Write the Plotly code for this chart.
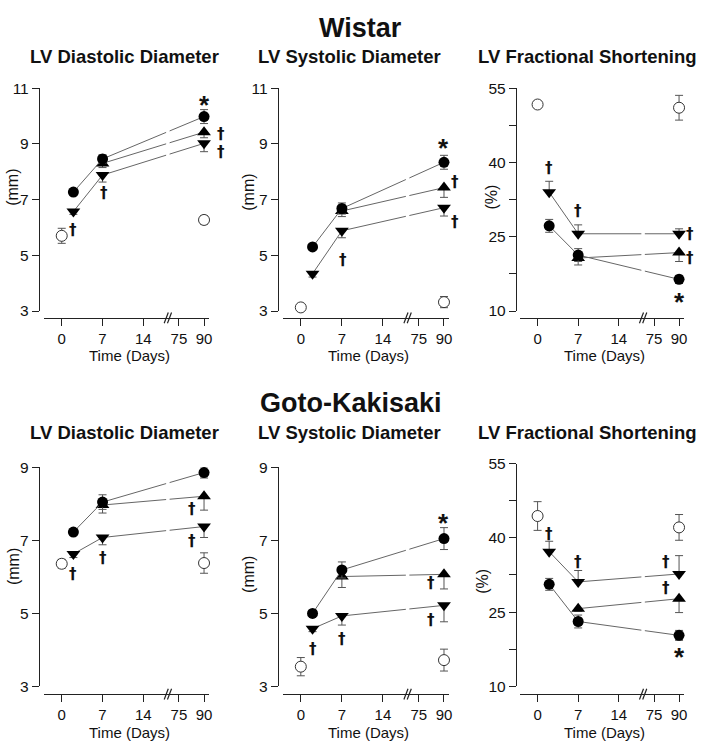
import numpy as np
import plotly.graph_objects as go

W, H = 708, 754
FONT = "Liberation Sans, Arial, Helvetica, sans-serif"

# ---------------- data ----------------
tick_days = [0, 7, 14, 75, 90]
tick_labels = ["0", "7", "14", "75", "90"]
tick_pos = [0, 7, 14, 20.1, 24.4]
break_pos = 18.2

days_filled = [2, 7, 90]
days_triup = [7, 90]
days_open = [0, 90]

# Wistar - LV Diastolic Diameter (mm)
w_dd_circle = [7.27, 8.46, 9.98]
w_dd_circle_err = [0.1, 0.15, 0.25]
w_dd_triup = [8.3, 9.42]
w_dd_triup_err = [0.15, 0.2]
w_dd_tridown = [6.57, 7.88, 9.02]
w_dd_tridown_err = [0.1, 0.25, 0.3]
w_dd_open = [5.7, 6.27]
w_dd_open_err = [0.27, 0.15]

# Wistar - LV Systolic Diameter (mm)
w_sd_circle = [5.3, 6.68, 8.34]
w_sd_circle_err = [0.08, 0.2, 0.25]
w_sd_triup = [6.59, 7.43]
w_sd_triup_err = [0.2, 0.35]
w_sd_tridown = [4.34, 5.88, 6.71]
w_sd_tridown_err = [0.12, 0.25, 0.3]
w_sd_open = [3.13, 3.32]
w_sd_open_err = [0.08, 0.2]

# Wistar - LV Fractional Shortening (%)
w_fs_circle = [27.2, 21.3, 16.4]
w_fs_circle_err = [1.3, 1.3, 0.8]
w_fs_triup = [20.7, 21.8]
w_fs_triup_err = [1.4, 1.8]
w_fs_tridown = [34.0, 25.6, 25.6]
w_fs_tridown_err = [2.2, 1.8, 1.0]
w_fs_open = [51.7, 51.05]
w_fs_open_err = [0.7, 2.5]

# Goto-Kakisaki - LV Diastolic Diameter (mm)
g_dd_circle = [7.23, 8.05, 8.86]
g_dd_circle_err = [0.08, 0.2, 0.15]
g_dd_triup = [7.97, 8.21]
g_dd_triup_err = [0.22, 0.38]
g_dd_tridown = [6.63, 7.08, 7.38]
g_dd_tridown_err = [0.1, 0.2, 0.3]
g_dd_open = [6.36, 6.38]
g_dd_open_err = [0.12, 0.28]

# Goto-Kakisaki - LV Systolic Diameter (mm)
g_sd_circle = [5.0, 6.19, 7.05]
g_sd_circle_err = [0.08, 0.22, 0.3]
g_sd_triup = [6.01, 6.07]
g_sd_triup_err = [0.3, 0.4]
g_sd_tridown = [4.58, 4.93, 5.22]
g_sd_tridown_err = [0.08, 0.25, 0.45]
g_sd_open = [3.54, 3.72]
g_sd_open_err = [0.25, 0.3]

# Goto-Kakisaki - LV Fractional Shortening (%)
g_fs_circle = [30.6, 23.1, 20.3]
g_fs_circle_err = [1.2, 1.3, 1.0]
g_fs_triup = [25.7, 27.7]
g_fs_triup_err = [0.5, 2.8]
g_fs_tridown = [37.2, 31.1, 32.7]
g_fs_tridown_err = [2.1, 2.3, 3.7]
g_fs_open = [44.4, 42.1]
g_fs_open_err = [2.9, 2.6]

# significance marks: (day, value, symbol, pixel x-shift)
w_dd_marks = [(2, 5.9, "†", 0), (7, 7.25, "†", 1), (90, 9.35, "†", 17), (90, 8.7, "†", 17), (90, 10.6, "*", 0)]
w_sd_marks = [(7, 4.83, "†", 1), (90, 7.64, "†", 11), (90, 6.18, "†", 11), (90, 9.05, "*", 0)]
w_fs_marks = [(2, 38.8, "†", 0), (7, 30.2, "†", 0), (90, 25.6, "†", 11), (90, 20.7, "†", 11), (90, 13.1, "*", 0)]
g_dd_marks = [(2, 6.07, "†", 0), (7, 6.52, "†", 0), (90, 7.86, "†", -12), (90, 6.99, "†", -12), (90, 9.26, "*", 0)]
g_sd_marks = [(2, 4.02, "†", 0), (7, 4.29, "†", 0), (90, 5.83, "†", -13), (90, 4.82, "†", -13), (90, 7.63, "*", 0)]
g_fs_marks = [(2, 40.8, "†", 0), (7, 35.2, "†", 0), (90, 35.2, "†", -13), (90, 29.8, "†", -13), (90, 17.1, "*", 0)]

# ---------------- layout helpers ----------------
def fx(px):
    return px / W

def fy(py):
    return 1 - py / H

def pos(days):
    return [float(np.interp(d, tick_days, tick_pos)) for d in days]

panels = [
    dict(title="LV Diastolic Diameter", ytitle="(mm)", yr=[3, 11], tv=[3, 5, 7, 9, 11], tt=["3", "5", "7", "9", "11"],
         c=(w_dd_circle, w_dd_circle_err), u=(w_dd_triup, w_dd_triup_err), d=(w_dd_tridown, w_dd_tridown_err),
         o=(w_dd_open, w_dd_open_err), marks=w_dd_marks, fs=False,
         L=44, R=210, yl=39, top=81, bot=309, xl=316, yt=(13, 182), tx=125, ty=49),
    dict(title="LV Systolic Diameter", ytitle="(mm)", yr=[3, 11], tv=[3, 5, 7, 9, 11], tt=["3", "5", "7", "9", "11"],
         c=(w_sd_circle, w_sd_circle_err), u=(w_sd_triup, w_sd_triup_err), d=(w_sd_tridown, w_sd_tridown_err),
         o=(w_sd_open, w_sd_open_err), marks=w_sd_marks, fs=False,
         L=284, R=451, yl=279, top=81, bot=309, xl=316, yt=(250, 187), tx=351, ty=49),
    dict(title="LV Fractional Shortening", ytitle="(%)", yr=[10, 55], tv=[10, 17.5, 25, 32.5, 40, 47.5, 55],
         tt=["10", "", "25", "", "40", "", "55"],
         c=(w_fs_circle, w_fs_circle_err), u=(w_fs_triup, w_fs_triup_err), d=(w_fs_tridown, w_fs_tridown_err),
         o=(w_fs_open, w_fs_open_err), marks=w_fs_marks, fs=True,
         L=522, R=687, yl=518, top=81, bot=309, xl=316, yt=(494, 192), tx=590, ty=49),
    dict(title="LV Diastolic Diameter", ytitle="(mm)", yr=[3, 9], tv=[3, 5, 7, 9], tt=["3", "5", "7", "9"],
         c=(g_dd_circle, g_dd_circle_err), u=(g_dd_triup, g_dd_triup_err), d=(g_dd_tridown, g_dd_tridown_err),
         o=(g_dd_open, g_dd_open_err), marks=g_dd_marks, fs=False,
         L=44, R=210, yl=39, top=469, bot=693, xl=701, yt=(13, 570), tx=125, ty=433),
    dict(title="LV Systolic Diameter", ytitle="(mm)", yr=[3, 9], tv=[3, 5, 7, 9], tt=["3", "5", "7", "9"],
         c=(g_sd_circle, g_sd_circle_err), u=(g_sd_triup, g_sd_triup_err), d=(g_sd_tridown, g_sd_tridown_err),
         o=(g_sd_open, g_sd_open_err), marks=g_sd_marks, fs=False,
         L=284, R=451, yl=279, top=469, bot=693, xl=701, yt=(250, 578), tx=351, ty=433),
    dict(title="LV Fractional Shortening", ytitle="(%)", yr=[10, 55], tv=[10, 17.5, 25, 32.5, 40, 47.5, 55],
         tt=["10", "", "25", "", "40", "", "55"],
         c=(g_fs_circle, g_fs_circle_err), u=(g_fs_triup, g_fs_triup_err), d=(g_fs_tridown, g_fs_tridown_err),
         o=(g_fs_open, g_fs_open_err), marks=g_fs_marks, fs=True,
         L=522, R=687, yl=518, top=465, bot=693, xl=701, yt=(485, 585), tx=590, ty=433),
]

LINE_C = "#666666"
ERR_C = "#555555"
AX_C = "#222222"
TXT_C = "#111111"

fig = go.Figure()
shapes = []
annotations = []
layout = {}
xrange_ = [-3.07, 25.27]

for i, p in enumerate(panels, start=1):
    xa = "x" if i == 1 else f"x{i}"
    ya = "y" if i == 1 else f"y{i}"
    xkey = "xaxis" if i == 1 else f"xaxis{i}"
    ykey = "yaxis" if i == 1 else f"yaxis{i}"

    layout[xkey] = dict(domain=[fx(p["L"]), fx(p["R"])], range=xrange_, anchor="free", position=fy(p["xl"]),
                        showline=True, linecolor=AX_C, linewidth=1, showgrid=False, zeroline=False,
                        tickmode="array", tickvals=tick_pos, ticktext=tick_labels, ticks="outside",
                        ticklen=7, tickcolor=AX_C, tickwidth=1,
                        tickfont=dict(family=FONT, size=15, color=TXT_C), fixedrange=True)
    layout[ykey] = dict(domain=[fy(p["bot"]), fy(p["top"])], range=p["yr"], anchor="free", position=fx(p["yl"]),
                        showline=True, linecolor=AX_C, linewidth=1, showgrid=False, zeroline=False,
                        tickmode="array", tickvals=p["tv"], ticktext=p["tt"], ticks="outside",
                        ticklen=7, tickcolor=AX_C, tickwidth=1,
                        tickfont=dict(family=FONT, size=15.5, color=TXT_C), fixedrange=True)

    fs = p["fs"]
    zeros3 = [0, 0, 0]
    zeros2 = [0, 0]

    # control group (open circles)
    ov, oe = p["o"]
    fig.add_trace(go.Scatter(x=pos(days_open), y=ov, xaxis=xa, yaxis=ya, mode="markers",
                             marker=dict(symbol="circle", size=11, color="white", line=dict(color="#333333", width=1)),
                             error_y=dict(type="data", array=oe, symmetric=True, color=ERR_C, thickness=1, width=4),
                             cliponaxis=False, hoverinfo="skip"))
    # triangle-down group
    dv, de = p["d"]
    fig.add_trace(go.Scatter(x=pos(days_filled), y=dv, xaxis=xa, yaxis=ya, mode="lines+markers",
                             line=dict(color=LINE_C, width=1),
                             marker=dict(symbol="triangle-down", size=12, color="black"),
                             error_y=dict(type="data", symmetric=False,
                                          array=de if fs else zeros3, arrayminus=zeros3 if fs else de,
                                          color=ERR_C, thickness=1, width=4),
                             cliponaxis=False, hoverinfo="skip"))
    # triangle-up group
    uv, ue = p["u"]
    fig.add_trace(go.Scatter(x=pos(days_triup), y=uv, xaxis=xa, yaxis=ya, mode="lines+markers",
                             line=dict(color=LINE_C, width=1),
                             marker=dict(symbol="triangle-up", size=12, color="black"),
                             error_y=dict(type="data", symmetric=False, array=zeros2, arrayminus=ue,
                                          color=ERR_C, thickness=1, width=4),
                             cliponaxis=False, hoverinfo="skip"))
    # filled circle group
    cv, ce = p["c"]
    fig.add_trace(go.Scatter(x=pos(days_filled), y=cv, xaxis=xa, yaxis=ya, mode="lines+markers",
                             line=dict(color=LINE_C, width=1),
                             marker=dict(symbol="circle", size=11, color="black"),
                             error_y=dict(type="data", array=ce, symmetric=True, color=ERR_C, thickness=1, width=4),
                             cliponaxis=False, hoverinfo="skip"))

    # small gap in the connecting lines at the axis break
    shapes.append(dict(type="rect", xref=xa, yref=f"{ya} domain", x0=break_pos - 0.3, x1=break_pos + 0.3,
                       y0=0, y1=1, fillcolor="white", line=dict(width=0), layer="above"))
    # "//" break mark on the x axis
    for off in (-0.28, 0.28):
        shapes.append(dict(type="line", xref=xa, yref="paper",
                           x0=break_pos + off - 0.35, x1=break_pos + off + 0.35,
                           y0=fy(p["xl"] + 5.5), y1=fy(p["xl"] - 5.5),
                           line=dict(color=AX_C, width=1.2)))

    for (d, v, sym, xs) in p["marks"]:
        if sym == "*":
            annotations.append(dict(x=pos([d])[0], y=v, xref=xa, yref=ya, text="<b>*</b>", showarrow=False,
                                    font=dict(family=FONT, size=26, color=TXT_C),
                                    xanchor="center", yanchor="middle", xshift=xs, yshift=-6))
        else:
            annotations.append(dict(x=pos([d])[0], y=v, xref=xa, yref=ya, text="<b>†</b>", showarrow=False,
                                    font=dict(family="DejaVu Sans", size=15, color=TXT_C),
                                    xanchor="center", yanchor="middle", xshift=xs))

    annotations.append(dict(x=fx(p["tx"]), y=fy(p["ty"]), xref="paper", yref="paper", text=f"<b>{p['title']}</b>",
                            showarrow=False, font=dict(family=FONT, size=18.5, color=TXT_C),
                            xanchor="center", yanchor="middle"))
    annotations.append(dict(x=fx(p["yt"][0]), y=fy(p["yt"][1]), xref="paper", yref="paper", text=p["ytitle"],
                            showarrow=False, textangle=-90, font=dict(family=FONT, size=16, color=TXT_C),
                            xanchor="center", yanchor="middle"))
    annotations.append(dict(x=fx((p["L"] + p["R"]) / 2 + 3), y=fy(p["xl"] + 39), xref="paper", yref="paper",
                            text="Time (Days)", showarrow=False, font=dict(family=FONT, size=15, color=TXT_C),
                            xanchor="center", yanchor="middle"))

annotations.append(dict(x=fx(362), y=fy(19), xref="paper", yref="paper", text="<b>Wistar</b>", showarrow=False,
                        font=dict(family=FONT, size=27, color=TXT_C), xanchor="center", yanchor="middle"))
annotations.append(dict(x=fx(352), y=fy(403), xref="paper", yref="paper", text="<b>Goto-Kakisaki</b>", showarrow=False,
                        font=dict(family=FONT, size=27, color=TXT_C), xanchor="center", yanchor="middle"))

fig.update_layout(width=W, height=H, margin=dict(l=0, r=0, t=0, b=0), paper_bgcolor="white",
                  plot_bgcolor="white", showlegend=False, shapes=shapes, annotations=annotations,
                  font=dict(family=FONT), **layout)

fig.write_html("out.html", config={"displayModeBar": False},
               post_script="document.body.style.margin='0';document.body.style.overflow='hidden';")
